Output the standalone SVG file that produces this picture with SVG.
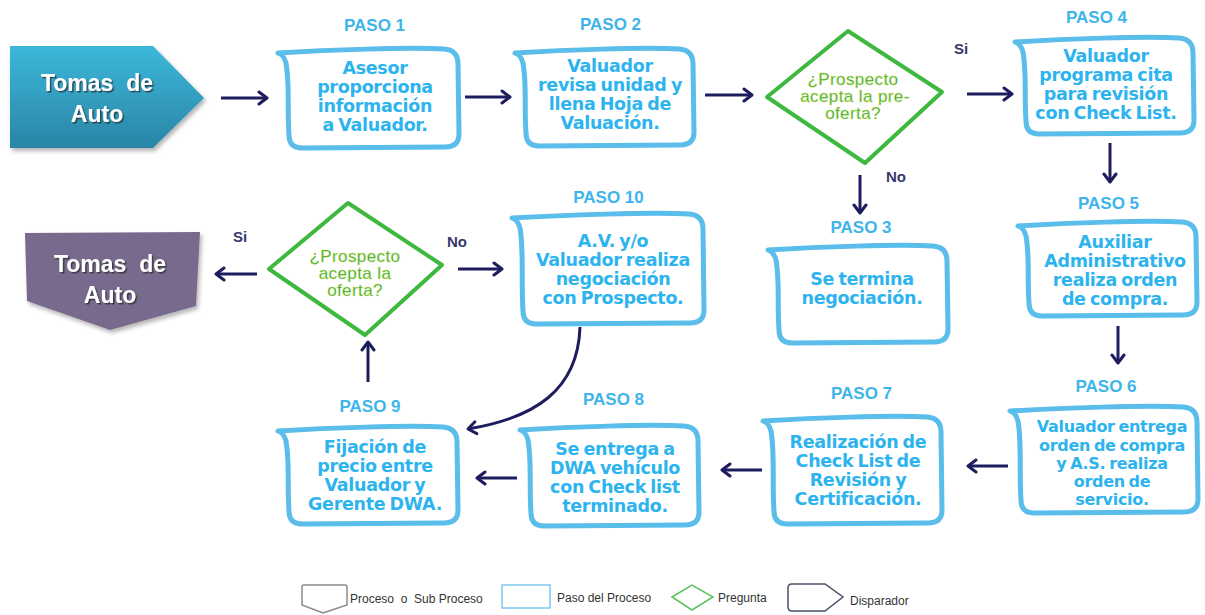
<svg xmlns="http://www.w3.org/2000/svg" width="1205" height="615" viewBox="0 0 1205 615">
<defs>
<linearGradient id="gTeal" x1="0" y1="0" x2="0" y2="1">
<stop offset="0" stop-color="#3cb8da"/>
<stop offset="1" stop-color="#2a85a6"/>
</linearGradient>
<filter id="shadow" x="-10%" y="-10%" width="130%" height="130%">
<feDropShadow dx="2" dy="3" stdDeviation="2" flood-color="#000" flood-opacity="0.3"/>
</filter>
<filter id="tshadow" x="-10%" y="-20%" width="130%" height="150%">
<feDropShadow dx="1.5" dy="1.5" stdDeviation="0.7" flood-color="#222" flood-opacity="0.7"/>
</filter>
<marker id="arr" markerUnits="userSpaceOnUse" markerWidth="14" markerHeight="16" refX="11" refY="8" orient="auto">
<path d="M3,2 L11,8 L3,14" fill="none" stroke="#1c1c5e" stroke-width="3" stroke-linecap="round" stroke-linejoin="round"/>
</marker>
</defs>
<style>
.box{fill:#fff;stroke:#5bbdea;stroke-width:5;stroke-linejoin:round}
.bt{font-family:"DejaVu Sans",sans-serif;font-weight:bold;font-size:17.5px;fill:#2db4ee;text-anchor:middle;letter-spacing:-0.3px;word-spacing:-1.5px}
.paso{font-family:"Liberation Sans",Arial,sans-serif;font-weight:bold;font-size:17px;fill:#3db5ea;text-anchor:middle}
.dia{fill:#fff;stroke:#3fb83f;stroke-width:4;stroke-linejoin:round}
.dt{font-family:"Liberation Sans",Arial,sans-serif;font-size:17px;fill:#2ea83e;stroke:#d6e25a;stroke-width:0.4;text-anchor:middle;letter-spacing:0.4px}
.lbl{font-family:"Liberation Sans",Arial,sans-serif;font-weight:bold;font-size:15px;fill:#38386a}
.trig{font-family:"Liberation Sans",Arial,sans-serif;font-weight:bold;font-size:23px;fill:#fff;text-anchor:middle}
.con{fill:none;stroke:#1c1c5e;stroke-width:3;marker-end:url(#arr)}
.lg{font-family:"Liberation Sans",Arial,sans-serif;font-size:12px;fill:#333}
</style>
<rect width="1205" height="615" fill="#fff"/>

<g id="trigger-top">
<polygon points="10,46 153,46 204,98 153,148 10,148" fill="url(#gTeal)" filter="url(#shadow)"/>
<g filter="url(#tshadow)">
<text class="trig" x="97" y="91" xml:space="preserve">Tomas  de</text>
<text class="trig" x="97" y="122">Auto</text>
</g>
</g>

<g id="paso1">
<text class="paso" x="374.5" y="31">PASO 1</text>
<path class="box" d="M278,53 C328,50 408,47 444,49 Q458,50 458,64 L459,134 Q459,147 445,147 L302,148 Q289,148 289,135 C287,107 290,86 286,63 Q284,55 278,53 Z"/>
<text class="bt" x="375" y="74">Asesor</text>
<text class="bt" x="375" y="93">proporciona</text>
<text class="bt" x="375" y="112">información</text>
<text class="bt" x="375" y="131">a Valuador.</text>
</g>

<g id="paso2">
<text class="paso" x="610.5" y="30">PASO 2</text>
<path class="box" d="M515,53 C565,50 643,47 679,49 Q693,50 693,64 L694,132 Q694,145 680,145 L539,146 Q526,146 526,133 C524,105 527,86 523,63 Q521,55 515,53 Z"/>
<text class="bt" x="610" y="72">Valuador</text>
<text class="bt" x="610" y="91">revisa unidad y</text>
<text class="bt" x="610" y="110">llena Hoja de</text>
<text class="bt" x="610" y="129">Valuación.</text>
</g>

<g id="pregunta1">
<polygon class="dia" points="767,97 848,31 942,92 865,163"/>
<text class="dt" x="853" y="85">¿Prospecto</text>
<text class="dt" x="855" y="102">acepta la pre-</text>
<text class="dt" x="853" y="119">oferta?</text>
</g>

<g id="paso4">
<text class="paso" x="1096.5" y="23">PASO 4</text>
<path class="box" d="M1015,42 C1065,39 1143,36 1179,38 Q1193,39 1193,53 L1194,120 Q1194,133 1180,133 L1039,134 Q1026,134 1026,121 C1024,93 1027,75 1023,52 Q1021,44 1015,42 Z"/>
<text class="bt" x="1106" y="62">Valuador</text>
<text class="bt" x="1106" y="81">programa cita</text>
<text class="bt" x="1106" y="100">para revisión</text>
<text class="bt" x="1106" y="119">con Check List.</text>
</g>

<g id="paso3">
<text class="paso" x="861" y="233">PASO 3</text>
<path class="box" d="M768,250 C818,247 897,244 933,246 Q947,247 947,261 L948,329 Q948,342 934,342 L792,343 Q779,343 779,330 C777,302 780,283 776,260 Q774,252 768,250 Z"/>
<text class="bt" x="862" y="285">Se termina</text>
<text class="bt" x="862" y="304">negociación.</text>
</g>

<g id="paso5">
<text class="paso" x="1108.5" y="209">PASO 5</text>
<path class="box" d="M1018,226 C1068,223 1146,220 1182,222 Q1196,223 1196,237 L1197,302 Q1197,315 1183,315 L1042,316 Q1029,316 1029,303 C1027,275 1030,259 1026,236 Q1024,228 1018,226 Z"/>
<text class="bt" x="1115" y="248">Auxiliar</text>
<text class="bt" x="1115" y="267">Administrativo</text>
<text class="bt" x="1115" y="286">realiza orden</text>
<text class="bt" x="1115" y="305">de compra.</text>
</g>

<g id="paso6">
<text class="paso" x="1106" y="392">PASO 6</text>
<path class="box" d="M1010,411 C1060,408 1147,405 1183,407 Q1197,408 1197,422 L1198,499 Q1198,512 1184,512 L1034,513 Q1021,513 1021,500 C1019,472 1022,444 1018,421 Q1016,413 1010,411 Z"/>
<text class="bt" x="1112" y="432" style="font-size:16px">Valuador entrega</text>
<text class="bt" x="1112" y="451" style="font-size:16px">orden de compra</text>
<text class="bt" x="1112" y="469" style="font-size:16px">y A.S. realiza</text>
<text class="bt" x="1112" y="487" style="font-size:16px">orden de</text>
<text class="bt" x="1112" y="505" style="font-size:16px">servicio.</text>
</g>

<g id="paso7">
<text class="paso" x="861.5" y="399">PASO 7</text>
<path class="box" d="M763,421 C813,418 891,415 927,417 Q941,418 941,432 L942,510 Q942,523 928,523 L787,524 Q774,524 774,511 C772,483 775,454 771,431 Q769,423 763,421 Z"/>
<text class="bt" x="858" y="448">Realización de</text>
<text class="bt" x="858" y="467">Check List de</text>
<text class="bt" x="858" y="486">Revisión y</text>
<text class="bt" x="858" y="505">Certificación.</text>
</g>

<g id="paso8">
<text class="paso" x="613.5" y="405">PASO 8</text>
<path class="box" d="M520,430 C570,427 648,424 684,426 Q698,427 698,441 L699,512 Q699,525 685,525 L544,526 Q531,526 531,513 C529,485 532,463 528,440 Q526,432 520,430 Z"/>
<text class="bt" x="615" y="455">Se entrega a</text>
<text class="bt" x="615" y="474">DWA vehículo</text>
<text class="bt" x="615" y="493">con Check list</text>
<text class="bt" x="615" y="512">terminado.</text>
</g>

<g id="paso9">
<text class="paso" x="370" y="412">PASO 9</text>
<path class="box" d="M278,431 C328,428 407,425 443,427 Q457,428 457,442 L458,510 Q458,523 444,523 L302,524 Q289,524 289,511 C287,483 290,464 286,441 Q284,433 278,431 Z"/>
<text class="bt" x="375" y="453">Fijación de</text>
<text class="bt" x="375" y="472">precio entre</text>
<text class="bt" x="375" y="491">Valuador y</text>
<text class="bt" x="375" y="510">Gerente DWA.</text>
</g>

<g id="paso10">
<text class="paso" x="608.5" y="203">PASO 10</text>
<path class="box" d="M512,218 C562,215 653,212 689,214 Q703,215 703,229 L704,310 Q704,323 690,323 L536,324 Q523,324 523,311 C521,283 524,251 520,228 Q518,220 512,218 Z"/>
<text class="bt" x="613" y="247">A.V. y/o</text>
<text class="bt" x="613" y="266">Valuador realiza</text>
<text class="bt" x="613" y="285">negociación</text>
<text class="bt" x="613" y="304">con Prospecto.</text>
</g>

<g id="pregunta2">
<polygon class="dia" points="269,269 348,203 442,265 365,335"/>
<text class="dt" x="355" y="262">¿Prospecto</text>
<text class="dt" x="355" y="279">acepta la</text>
<text class="dt" x="355" y="296">oferta?</text>
</g>

<g id="trigger-bottom">
<path d="M25,233 L200,232 L196,306 L110,330 L27,301 Z" fill="#786a8c" filter="url(#shadow)"/>
<g filter="url(#tshadow)">
<text class="trig" x="110" y="272" xml:space="preserve">Tomas  de</text>
<text class="trig" x="110" y="303">Auto</text>
</g>
</g>

<g id="connectors">
<line class="con" x1="221" y1="98" x2="267" y2="98"/>
<line class="con" x1="465" y1="97" x2="510" y2="97"/>
<line class="con" x1="705" y1="95" x2="752" y2="95"/>
<line class="con" x1="967" y1="94" x2="1012" y2="94"/>
<line class="con" x1="860" y1="175" x2="860" y2="213"/>
<line class="con" x1="1110" y1="143" x2="1110" y2="182"/>
<line class="con" x1="1118" y1="326" x2="1118" y2="363"/>
<line class="con" x1="1008" y1="466" x2="968" y2="466"/>
<line class="con" x1="762" y1="470" x2="722" y2="470"/>
<line class="con" x1="517" y1="478" x2="477" y2="478"/>
<line class="con" x1="368" y1="382" x2="368" y2="342"/>
<line class="con" x1="257" y1="274" x2="216" y2="274"/>
<line class="con" x1="458" y1="269" x2="502" y2="269"/>
<path class="con" d="M580,327 C578,390 535,418 468,429"/>
<text class="lbl" x="954" y="54">Si</text>
<text class="lbl" x="886" y="182">No</text>
<text class="lbl" x="233" y="242">Si</text>
<text class="lbl" x="447" y="247">No</text>
</g>

<g id="legend">
<path d="M302,586 Q302,585 304,585 L345,585 Q347,585 347,587 L347,605 L323,613 L302,605 Z" fill="#fff" stroke="#8a8a8a" stroke-width="1.5"/>
<text class="lg" x="350" y="603" xml:space="preserve">Proceso  o  Sub Proceso</text>
<rect x="502" y="585" width="48" height="23" fill="#fff" stroke="#7cc8ee" stroke-width="1.5"/>
<text class="lg" x="557" y="602">Paso del Proceso</text>
<polygon points="672,597 692,585 713,597 692,610" fill="#fff" stroke="#5cc25c" stroke-width="1.5"/>
<text class="lg" x="718" y="602">Pregunta</text>
<path d="M792,584 L825,584 L843,597 L825,611 L792,611 Q788,611 788,607 L788,588 Q788,584 792,584 Z" fill="#fff" stroke="#4a5068" stroke-width="1.5"/>
<text class="lg" x="850" y="605">Disparador</text>
</g>
</svg>
